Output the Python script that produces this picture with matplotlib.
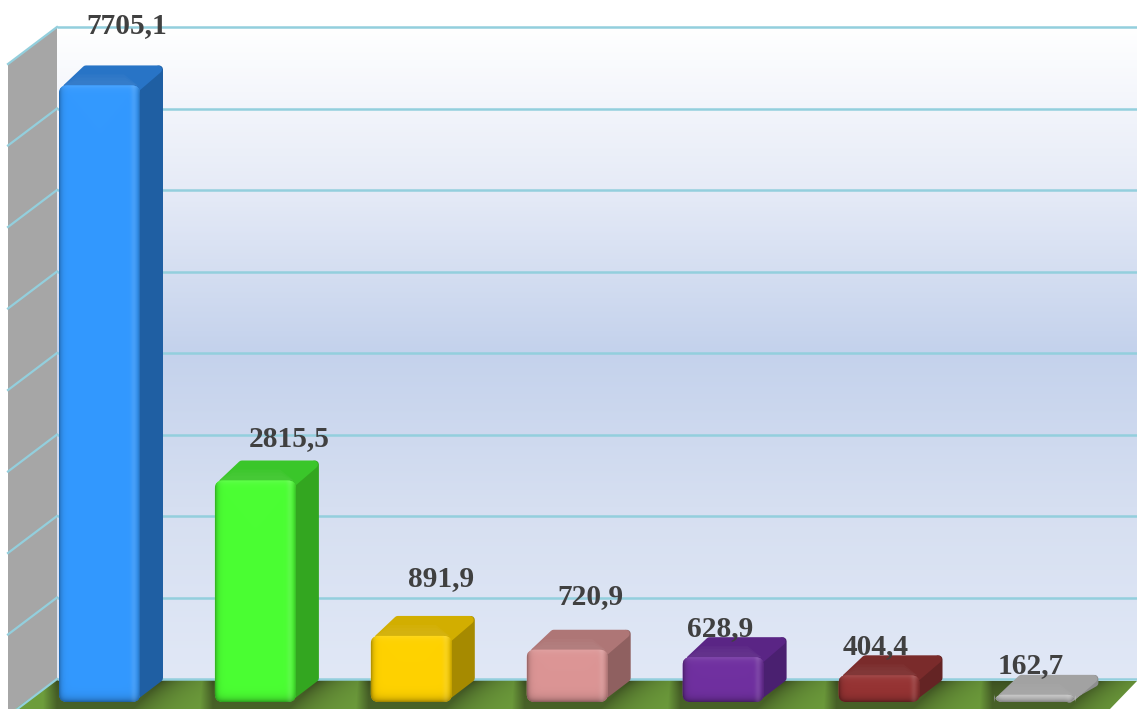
#!/usr/bin/env python3
import matplotlib
matplotlib.use("Agg")
import matplotlib.pyplot as plt
from matplotlib.colors import to_rgb
from matplotlib.patches import FancyBboxPatch, Polygon
import numpy as np

values = [7705.1, 2815.5, 891.9, 720.9, 628.9, 404.4, 162.7]
labels = ["7705,1", "2815,5", "891,9", "720,9", "628,9", "404,4", "162,7"]
grid_values = [0, 1000, 2000, 3000, 4000, 5000, 6000, 7000, 8000]

front_colors = ["#3399FF", "#4BFF33", "#FFD200", "#DC9595", "#7030A0", "#963333", "#CFCFCF"]
top_colors = ["#2874C6", "#3AC62A", "#D2AE00", "#AE7676", "#5A2585", "#7A2B2B", "#A2A2A2"]
side_colors = ["#1F5FA3", "#33A620", "#A68A00", "#8F6060", "#4A2070", "#642424", "#8E8E8E"]

# label offsets from bar centre / bar top, pixels
label_dx = [27, 34, 30, 23, -3, -3, -4]
label_dy = [60, 42, 57, 53, 29, 29, 29]

PX_PER_UNIT = 0.0815
UNIT = 1 / PX_PER_UNIT
W, H = 1137, 709
BASE = -23 * UNIT
BAR_W = 81
BAR_STEP = 155.9
BAR_X0 = 59
DEPTH_X = 23
DEPTH_Y = 20 * UNIT
GAIN = 0.0808 / PX_PER_UNIT
LIFT = 6 * UNIT


def py(p):
    return (679 - p) * UNIT


def lighten(color, amount):
    c = np.array(to_rgb(color))
    return c + (1 - c) * amount


def draw_bar(ax, i, value):
    x = BAR_X0 + i * BAR_STEP
    h = value * GAIN - LIFT
    top = BASE + h
    r = 4  # stroke radius used to round the polygons off

    side_bottom = min(BASE + DEPTH_Y + 4 * UNIT, top + DEPTH_Y - 2 * r * UNIT)
    side = [(x + BAR_W - 6, BASE + 5 * UNIT), (x + BAR_W + DEPTH_X - r, side_bottom),
            (x + BAR_W + DEPTH_X - r, top + DEPTH_Y - r * UNIT), (x + BAR_W - 6, top - r * UNIT)]
    ax.add_patch(Polygon(side, closed=True, fc=side_colors[i], ec=side_colors[i], lw=r * 1.44,
                         joinstyle="round", zorder=4))

    back = [(x + r + 4, top - 2 * UNIT), (x + DEPTH_X + r, top + DEPTH_Y - r * UNIT),
            (x + BAR_W + DEPTH_X - r - 1, top + DEPTH_Y - r * UNIT), (x + BAR_W - 3, top - 2 * UNIT)]
    ax.add_patch(Polygon(back, closed=True, fc=top_colors[i], ec=top_colors[i], lw=r * 1.44,
                         joinstyle="round", zorder=5))
    # soft bevel toward the front edge
    for k, a in enumerate([0.28, 0.28, 0.28]):
        rise = (11 - 3 * k) * UNIT
        hexa = [(x + 4, top), (x + 19 - k, top + rise), (x + BAR_W - 16 + k, top + rise), (x + BAR_W - 2, top)]
        ax.add_patch(Polygon(hexa, closed=True, fc=lighten(top_colors[i], 0.1), ec="none", alpha=a, zorder=5))

    patch = FancyBboxPatch((x, BASE), BAR_W, h, boxstyle="round,pad=0,rounding_size=8",
                           mutation_aspect=UNIT, fc=front_colors[i], ec="none", zorder=6)
    ax.add_patch(patch)
    hpx = max(int(round(h * PX_PER_UNIT)), 2)
    xs = np.arange(BAR_W) + 0.5
    ys = np.arange(hpx) + 0.5
    xx, yy = np.meshgrid(xs, ys)
    dark = 0.35 * np.exp(-xx / 2.5) + 0.3 * np.exp(-(BAR_W - xx) / 2.5) + 0.4 * np.exp(-(hpx - yy) / 3.5)
    light = 0.15 * np.exp(-yy / 3) + 0.10 * np.exp(-((xx - (BAR_W - 6)) / 3) ** 2)
    base = np.array(to_rgb(front_colors[i]))
    rgb = base * (1 - np.clip(dark, 0, 0.6))[..., None]
    rgb = rgb + (1 - rgb) * np.clip(light, 0, 0.5)[..., None]
    im = ax.imshow(rgb, extent=(x, x + BAR_W, BASE, top), origin="upper", aspect="auto", zorder=6,
                   interpolation="bilinear")
    im.set_clip_path(patch)
    return x, top


def main():
    fig = plt.figure(figsize=(W / 100, H / 100), dpi=100)
    ax = fig.add_axes([0, 0, 1, 1])
    ax.axis("off")

    stops_y = np.array([0, 160, 323, 480, 652])
    stops_c = np.array([to_rgb(c) for c in ["#FFFFFF", "#E6EBF7", "#C4D2EC", "#D6DFF1", "#E1E8F6"]])
    rows = np.arange(652)
    grad = np.stack([np.interp(rows, stops_y, stops_c[:, k]) for k in range(3)], axis=1)[:, None, :]
    ax.imshow(grad, extent=(57, W, py(679), py(27)), origin="upper", aspect="auto", zorder=1)

    wall = [(8, py(64)), (57, py(27)), (57, py(681)), (15, py(709)), (8, py(709))]
    ax.add_patch(Polygon(wall, closed=True, fc="#A6A6A6", ec="none", zorder=1))

    # floor with shadows of the bars
    fx, fy = np.meshgrid(np.arange(W) + 0.5, np.arange(679, H) + 0.5)
    dark = np.zeros_like(fx)
    for i in range(len(values)):
        x = BAR_X0 + i * BAR_STEP
        edge = x + BAR_W + (702 - fy) * DEPTH_X / 22
        reach = np.clip(fx - edge, 0, None)
        s = np.exp(-reach / 26) * np.clip((fx - (x - 16)) / 14, 0, 1)
        dark = np.maximum(dark, s)
    dark = dark * (0.7 + 0.3 * np.exp(-(fy - 679) / 9))
    c0, c1 = np.array(to_rgb("#6E9E3C")), np.array(to_rgb("#38491F"))
    floor_img = c0 + (c1 - c0) * dark[..., None]
    floor = Polygon([(15, py(709)), (57, py(679)), (W, py(681)), (1110, py(709))], closed=True,
                    fc="none", ec="none")
    ax.add_patch(floor)
    im = ax.imshow(floor_img, extent=(0, W, py(709), py(679)), origin="upper", aspect="auto", zorder=2)
    im.set_clip_path(floor)

    ax.hlines(grid_values, 57, W, color="#93CFDD", lw=1.8, zorder=3)
    for v in grid_values:
        ax.plot([8, 57], [v - 37 * UNIT, v], color="#93CFDD", lw=1.6, zorder=3)

    for i, v in enumerate(values):
        x, top = draw_bar(ax, i, v)
        ax.text(x + BAR_W / 2 + label_dx[i], top + label_dy[i] * UNIT, labels[i], ha="center", va="center",
                family="Liberation Serif", weight="bold", fontsize=21.2, color="#404040", zorder=8)

    ax.set_xlim(0, W)
    ax.set_ylim(py(H), py(0))
    fig.savefig("out.png", dpi=100)
    plt.close(fig)


if __name__ == "__main__":
    main()
